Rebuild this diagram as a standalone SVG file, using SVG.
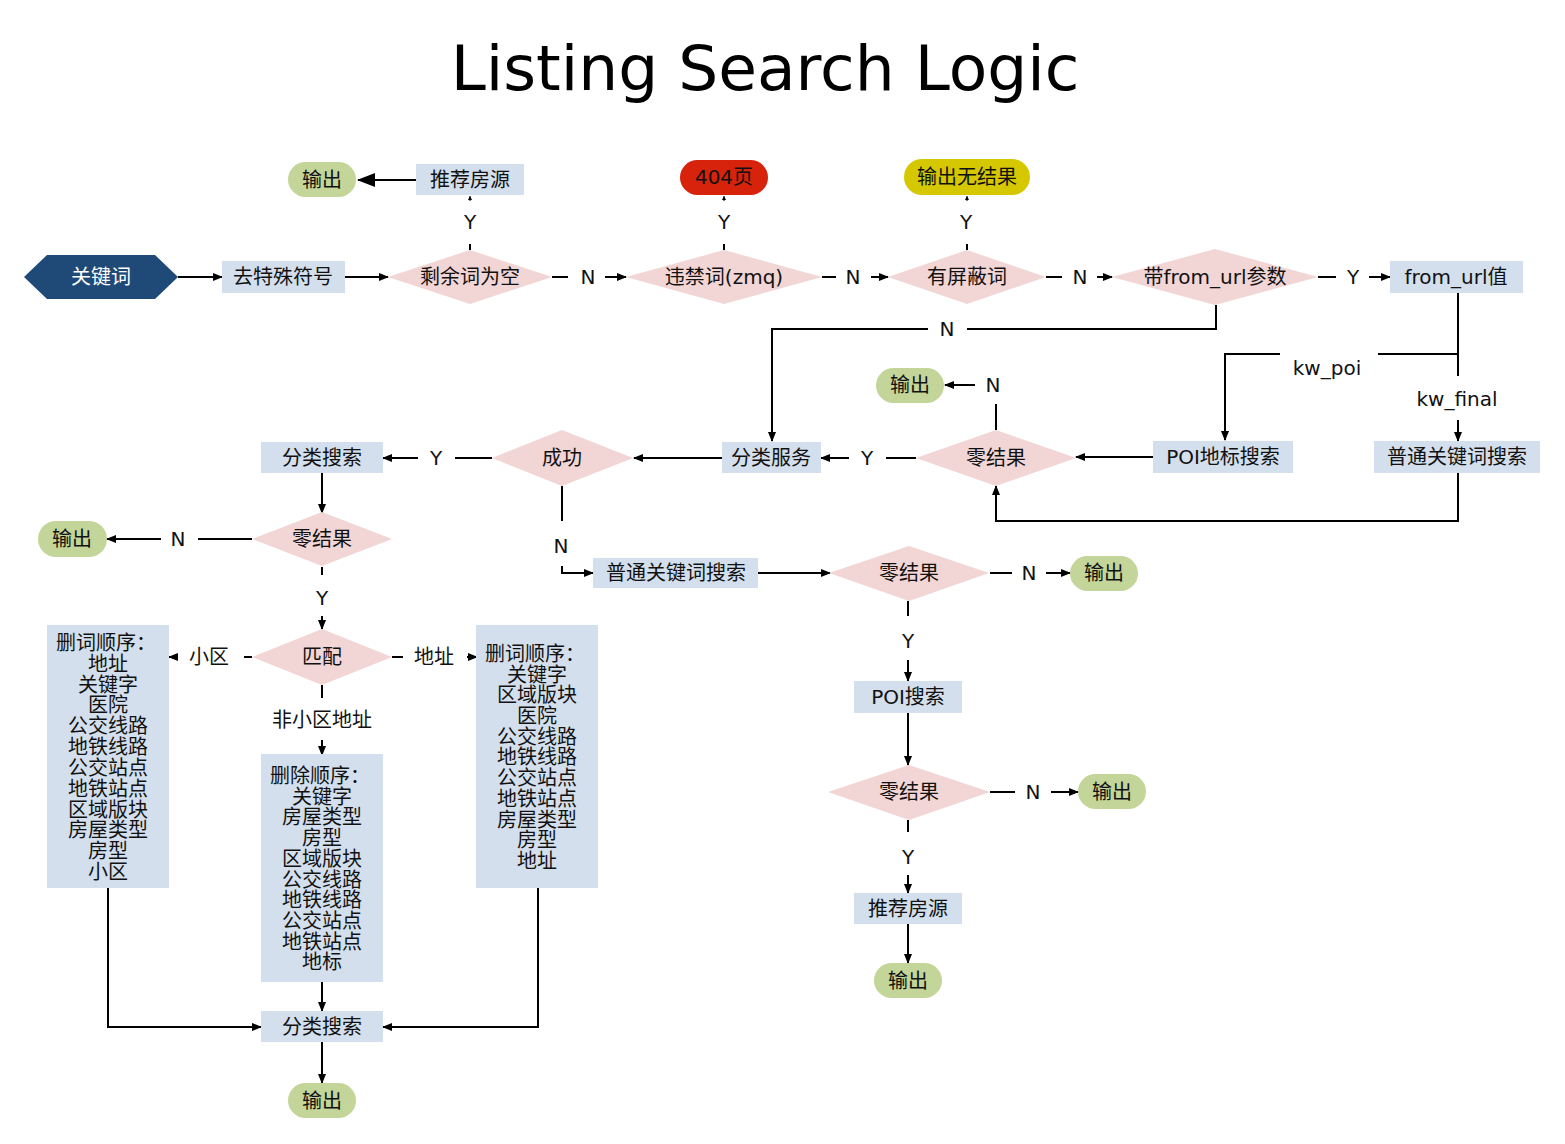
<svg xmlns="http://www.w3.org/2000/svg" width="1565" height="1144" viewBox="0 0 1565 1144">
<defs>
<style>
.box{fill:#d3dfec}
.dia{fill:#f2d5d5}
.out{fill:#c3d598}
.t{font-family:"DejaVu Sans","Noto Sans CJK SC",sans-serif;font-size:20px;text-anchor:middle;dominant-baseline:central;fill:#111}
.c path{fill:none;stroke:#000;stroke-width:2}
.title{font-family:"DejaVu Sans",sans-serif;font-size:63px;text-anchor:middle;fill:#000}
</style>
<marker id="a" viewBox="0 0 10 8" refX="9" refY="4" markerWidth="10" markerHeight="8" markerUnits="userSpaceOnUse" orient="auto"><path d="M0,0L10,4L0,8z" fill="#000"/></marker>
<marker id="ab" viewBox="0 0 18 14" refX="17" refY="7" markerWidth="18" markerHeight="14" markerUnits="userSpaceOnUse" orient="auto"><path d="M0,0L18,7L0,14z" fill="#000"/></marker>
<marker id="as" viewBox="0 0 4 4" refX="4" refY="2" markerWidth="4" markerHeight="4" markerUnits="userSpaceOnUse" orient="auto"><path d="M0,0L4,2L0,4z" fill="#000"/></marker>
</defs>
<rect width="1565" height="1144" fill="#fff"/>
<text class="title" x="765" y="90">Listing Search Logic</text>

<g id="connectors" class="c">
<path d="M178,277H222" marker-end="url(#a)"/>
<path d="M345,277H388" marker-end="url(#a)"/>
<path d="M552,277H568"/><path d="M605,277H626" marker-end="url(#a)"/>
<path d="M822,277H836"/><path d="M871,277H888" marker-end="url(#a)"/>
<path d="M1046,277H1062"/><path d="M1097,277H1112" marker-end="url(#a)"/>
<path d="M1318,277H1336"/><path d="M1369,277H1390" marker-end="url(#a)"/>
<path d="M470,250V244"/><path d="M470,201V196" style="stroke-width:1" marker-end="url(#as)"/>
<path d="M416,180H358" marker-end="url(#ab)"/>
<path d="M724,250V244"/><path d="M724,201V196" style="stroke-width:1" marker-end="url(#as)"/>
<path d="M967,250V244"/><path d="M967,201V196" style="stroke-width:1" marker-end="url(#as)"/>
<path d="M1216,305V329H967"/><path d="M928,329H772V441" marker-end="url(#a)"/>
<path d="M1458,293V354H1378"/><path d="M1280,354H1225V440" marker-end="url(#a)"/>
<path d="M1458,354V376"/><path d="M1458,420V441" marker-end="url(#a)"/>
<path d="M1153,457H1076" marker-end="url(#a)"/>
<path d="M1458,473V521H996V486" marker-end="url(#a)"/>
<path d="M996,430V404"/><path d="M975,385H945" marker-end="url(#a)"/>
<path d="M916,458H886"/><path d="M849,458H821" marker-end="url(#a)"/>
<path d="M722,458H634" marker-end="url(#a)"/>
<path d="M492,458H455"/><path d="M418,458H383" marker-end="url(#a)"/>
<path d="M322,473V513" marker-end="url(#a)"/>
<path d="M252,539H198"/><path d="M161,539H107" marker-end="url(#a)"/>
<path d="M322,567V575"/><path d="M322,616V629" marker-end="url(#a)"/>
<path d="M252,657H244"/><path d="M178,657H169" marker-end="url(#a)"/>
<path d="M392,657H403"/><path d="M467,657H477" marker-end="url(#a)"/>
<path d="M322,685V698"/><path d="M322,740V755" marker-end="url(#a)"/>
<path d="M322,982V1011" marker-end="url(#a)"/>
<path d="M108,888V1027H261" marker-end="url(#a)"/>
<path d="M538,888V1027H383" marker-end="url(#a)"/>
<path d="M322,1042V1083" marker-end="url(#a)"/>
<path d="M562,486V521"/><path d="M562,566V573H593" marker-end="url(#a)"/>
<path d="M758,573H830" marker-end="url(#a)"/>
<path d="M990,573H1012"/><path d="M1046,573H1070" marker-end="url(#a)"/>
<path d="M908,601V616"/><path d="M908,660V681" marker-end="url(#a)"/>
<path d="M908,713V765" marker-end="url(#a)"/>
<path d="M990,792H1015"/><path d="M1051,792H1078" marker-end="url(#a)"/>
<path d="M908,820V832"/><path d="M908,875V893" marker-end="url(#a)"/>
<path d="M908,924V963" marker-end="url(#a)"/>
<g class="t">
<text class="t" x="588" y="277">N</text>
<text class="t" x="853" y="277">N</text>
<text class="t" x="1080" y="277">N</text>
<text class="t" x="1353" y="277">Y</text>
<text class="t" x="470" y="222">Y</text>
<text class="t" x="724" y="222">Y</text>
<text class="t" x="966" y="222">Y</text>
<text class="t" x="947" y="329">N</text>
<text class="t" x="1327" y="368">kw_poi</text>
<text class="t" x="1457" y="399">kw_final</text>
<text class="t" x="993" y="385">N</text>
<text class="t" x="867" y="458">Y</text>
<text class="t" x="436" y="458">Y</text>
<text class="t" x="178" y="539">N</text>
<text class="t" x="322" y="598">Y</text>
<text class="t" x="209" y="657">小区</text>
<text class="t" x="434" y="657">地址</text>
<text class="t" x="322" y="720">非小区地址</text>
<text class="t" x="561" y="546">N</text>
<text class="t" x="1029" y="573">N</text>
<text class="t" x="908" y="641">Y</text>
<text class="t" x="1033" y="792">N</text>
<text class="t" x="908" y="857">Y</text>
</g>
</g>

<g id="n-keyword"><polygon points="24,277 47,255 155,255 178,277 155,299 47,299" fill="#1f4a78"/><text class="t" x="101" y="277" style="fill:#fff">关键词</text></g>
<g id="n-strip"><rect class="box" x="222" y="261" width="123" height="32"/><text class="t" x="283" y="277">去特殊符号</text></g>
<g id="n-empty"><polygon class="dia" points="388,277 470,250 552,277 470,304"/><text class="t" x="470" y="277">剩余词为空</text></g>
<g id="n-rec1"><rect class="box" x="416" y="164" width="108" height="31"/><text class="t" x="470" y="180">推荐房源</text></g>
<g id="n-out1"><rect class="out" x="288" y="162" width="68" height="35" rx="17.5"/><text class="t" x="322" y="180">输出</text></g>
<g id="n-forbid"><polygon class="dia" points="626,277 724,250 822,277 724,304"/><text class="t" x="724" y="277">违禁词(zmq)</text></g>
<g id="n-404"><rect x="680" y="160" width="88" height="35" rx="17.5" fill="#d7230b"/><text class="t" x="724" y="177">404页</text></g>
<g id="n-block"><polygon class="dia" points="888,277 967,250 1046,277 967,304"/><text class="t" x="967" y="277">有屏蔽词</text></g>
<g id="n-noresult"><rect x="904" y="159" width="126" height="36" rx="18" fill="#d5c700"/><text class="t" x="967" y="177">输出无结果</text></g>
<g id="n-fromurl"><polygon class="dia" points="1112,277 1215,249 1318,277 1215,305"/><text class="t" x="1215" y="277">带from_url参数</text></g>
<g id="n-fromval"><rect class="box" x="1390" y="261" width="133" height="32"/><text class="t" x="1456" y="277">from_url值</text></g>
<g id="n-poilm"><rect class="box" x="1153" y="441" width="140" height="32"/><text class="t" x="1223" y="457">POI地标搜索</text></g>
<g id="n-kwsearch1"><rect class="box" x="1374" y="441" width="166" height="32"/><text class="t" x="1457" y="457">普通关键词搜索</text></g>
<g id="n-zero1"><polygon class="dia" points="916,458 996,430 1076,458 996,486"/><text class="t" x="996" y="458">零结果</text></g>
<g id="n-out2"><rect class="out" x="876" y="368" width="68" height="35" rx="17.5"/><text class="t" x="910" y="385">输出</text></g>
<g id="n-catsvc"><rect class="box" x="722" y="442" width="99" height="31"/><text class="t" x="771" y="458">分类服务</text></g>
<g id="n-success"><polygon class="dia" points="492,458 562,430 633,458 562,486"/><text class="t" x="562" y="458">成功</text></g>
<g id="n-catsearch1"><rect class="box" x="261" y="442" width="122" height="31"/><text class="t" x="322" y="458">分类搜索</text></g>
<g id="n-zero2"><polygon class="dia" points="252,539 322,512 392,539 322,566"/><text class="t" x="322" y="539">零结果</text></g>
<g id="n-out3"><rect class="out" x="38" y="521" width="69" height="36" rx="18"/><text class="t" x="72" y="539">输出</text></g>
<g id="n-match"><polygon class="dia" points="252,657 322,629 392,657 322,685"/><text class="t" x="322" y="657">匹配</text></g>
<g id="n-listL"><rect class="box" x="47" y="625" width="122" height="263"/><text class="t"><tspan x="106" y="643">删词顺序：</tspan><tspan x="108" y="664">地址</tspan><tspan x="108" y="685">关键字</tspan><tspan x="108" y="705">医院</tspan><tspan x="108" y="726">公交线路</tspan><tspan x="108" y="747">地铁线路</tspan><tspan x="108" y="768">公交站点</tspan><tspan x="108" y="789">地铁站点</tspan><tspan x="108" y="810">区域版块</tspan><tspan x="108" y="830">房屋类型</tspan><tspan x="108" y="851">房型</tspan><tspan x="108" y="872">小区</tspan></text></g>
<g id="n-listM"><rect class="box" x="261" y="754" width="122" height="228"/><text class="t"><tspan x="320" y="776">删除顺序：</tspan><tspan x="322" y="797">关键字</tspan><tspan x="322" y="817">房屋类型</tspan><tspan x="322" y="838">房型</tspan><tspan x="322" y="859">区域版块</tspan><tspan x="322" y="880">公交线路</tspan><tspan x="322" y="900">地铁线路</tspan><tspan x="322" y="921">公交站点</tspan><tspan x="322" y="942">地铁站点</tspan><tspan x="322" y="962">地标</tspan></text></g>
<g id="n-listR"><rect class="box" x="476" y="625" width="122" height="263"/><text class="t"><tspan x="535" y="654">删词顺序：</tspan><tspan x="537" y="675">关键字</tspan><tspan x="537" y="695">区域版块</tspan><tspan x="537" y="716">医院</tspan><tspan x="537" y="737">公交线路</tspan><tspan x="537" y="757">地铁线路</tspan><tspan x="537" y="778">公交站点</tspan><tspan x="537" y="799">地铁站点</tspan><tspan x="537" y="820">房屋类型</tspan><tspan x="537" y="840">房型</tspan><tspan x="537" y="861">地址</tspan></text></g>
<g id="n-catsearch2"><rect class="box" x="261" y="1011" width="122" height="31"/><text class="t" x="322" y="1027">分类搜索</text></g>
<g id="n-out4"><rect class="out" x="288" y="1083" width="68" height="35" rx="17.5"/><text class="t" x="322" y="1101">输出</text></g>
<g id="n-kwsearch2"><rect class="box" x="593" y="558" width="165" height="30"/><text class="t" x="676" y="573">普通关键词搜索</text></g>
<g id="n-zero3"><polygon class="dia" points="829,573 909,546 989,573 909,601"/><text class="t" x="909" y="573">零结果</text></g>
<g id="n-out5"><rect class="out" x="1070" y="556" width="68" height="35" rx="17.5"/><text class="t" x="1104" y="573">输出</text></g>
<g id="n-poi"><rect class="box" x="854" y="681" width="108" height="32"/><text class="t" x="908" y="697">POI搜索</text></g>
<g id="n-zero4"><polygon class="dia" points="828,792 909,765 990,792 909,820"/><text class="t" x="909" y="792">零结果</text></g>
<g id="n-out6"><rect class="out" x="1078" y="774" width="68" height="35" rx="17.5"/><text class="t" x="1112" y="792">输出</text></g>
<g id="n-rec2"><rect class="box" x="854" y="893" width="108" height="31"/><text class="t" x="908" y="909">推荐房源</text></g>
<g id="n-out7"><rect class="out" x="874" y="963" width="68" height="35" rx="17.5"/><text class="t" x="908" y="981">输出</text></g>
</svg>
